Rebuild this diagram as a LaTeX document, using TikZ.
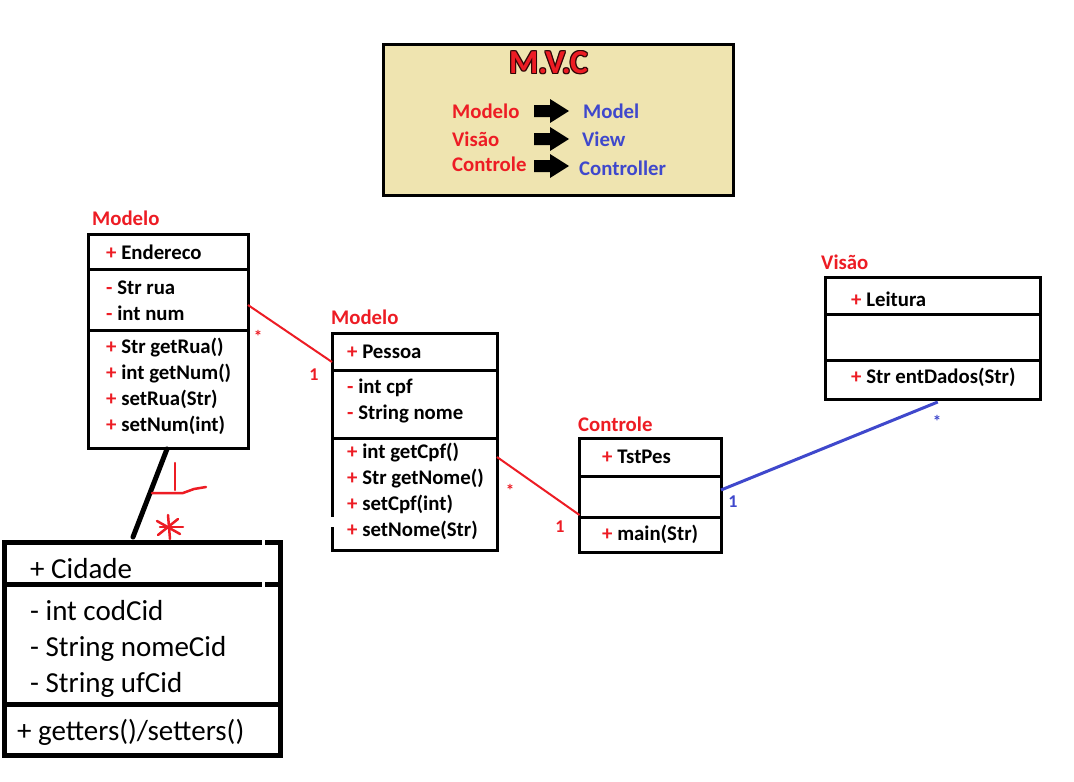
\documentclass[tikz,border=0pt]{standalone}
\usepackage{fontspec}
\setmainfont{Carlito}
\usetikzlibrary{calc}
\definecolor{umlred}{RGB}{237,28,36}
\definecolor{umlblue}{RGB}{63,72,204}
\definecolor{mvctan}{RGB}{239,228,176}
\newcommand{\pub}{\textcolor{umlred}{+}}
\newcommand{\priv}{\textcolor{umlred}{-}}
\tikzset{
  classbox/.style={draw=black,line width=3pt,rectangle,inner sep=0pt,outer sep=0pt},
  divider/.style={draw=black,line width=3pt},
  member/.style={anchor=base west,inner sep=0pt,font=\fontsize{20.8}{24}\selectfont\bfseries},
  layer/.style={member,text=umlred},
  citem/.style={anchor=base west,inner sep=0pt,font=\fontsize{29}{32}\selectfont},
  mult/.style={inner sep=0pt,font=\fontsize{18}{20}\selectfont\bfseries},
  star/.style={inner sep=0pt,font=\fontsize{17}{18}\selectfont\bfseries},
  assoc/.style={draw=umlred,line width=2pt},
  scribble/.style={draw=umlred,line width=2.5pt,line cap=round,line join=round},
  mvcfont/.style={anchor=base west,inner sep=0pt,font=\fontsize{33.5}{36}\selectfont\bfseries},
}
\begin{document}
\begin{tikzpicture}[x=1pt,y=-1pt]
\useasboundingbox[fill=white] (0,0) rectangle (1074,782);

\begin{scope}
  \node[classbox,fill=mvctan,minimum width=350.5pt,minimum height=151.5pt] (mvc) at (558.25,119.75) {};
  \foreach \dx/\dy in {-1/0,1/0,0/-1,0/1,-1/-1,1/1,-1/1,1/-1}
    \node[mvcfont,text=black!80!umlred] at (509+\dx,73+\dy) {M.V.C};
  \node[mvcfont,text=umlred] (mvctitle) at (509,73) {M.V.C};
  \node[layer] (modelo) at (452,118) {Modelo};
  \node[layer] (visao) at (452,146) {Visão};
  \node[layer] (controle) at (452,171) {Controle};
  \node[member,text=umlblue] (model) at (583,118) {Model};
  \node[member,text=umlblue] (view) at (582,146) {View};
  \node[member,text=umlblue] (controller) at (579,175) {Controller};
  \foreach \y in {111,139,166}
    \fill[black] (534,\y-6) -- (550,\y-6) -- (550,\y-12) -- (569,\y) -- (550,\y+12) -- (550,\y+6) -- (534,\y+6) -- cycle;
\end{scope}

\begin{scope}
  \node[layer] (lblendereco) at (92,225) {Modelo};
  \node[classbox,minimum width=160pt,minimum height=214pt] (endereco) at (168,341) {};
  \draw[divider] (endereco.west |- 0,269) -- (endereco.east |- 0,269);
  \draw[divider] (endereco.west |- 0,330.5) -- (endereco.east |- 0,330.5);
  \node[member] (e1) at (106,259) {\pub{} Endereco};
  \node[member] (e2) at (106,294) {\priv{} Str rua};
  \node[member] (e3) at (106,320) {\priv{} int num};
  \node[member] (e4) at (106,353) {\pub{} Str getRua()};
  \node[member] (e5) at (106,379) {\pub{} int getNum()};
  \node[member] (e6) at (106,405) {\pub{} setRua(Str)};
  \node[member] (e7) at (106,431) {\pub{} setNum(int)};
\end{scope}

\begin{scope}
  \node[layer] (lblpessoa) at (331,324) {Modelo};
  \node[classbox,minimum width=165pt,minimum height=217.5pt] (pessoa) at (414.5,441.75) {};
  \draw[divider] (pessoa.west |- 0,370.5) -- (pessoa.east |- 0,370.5);
  \draw[divider] (pessoa.west |- 0,438) -- (pessoa.east |- 0,438);
  \draw[white,line width=4pt] (332,517) -- (332,527);
  \node[member] (p1) at (347,358) {\pub{} Pessoa};
  \node[member] (p2) at (347,393) {\priv{} int cpf};
  \node[member] (p3) at (347,419) {\priv{} String nome};
  \node[member] (p4) at (347,458) {\pub{} int getCpf()};
  \node[member] (p5) at (347,484) {\pub{} Str getNome()};
  \node[member] (p6) at (347,510) {\pub{} setCpf(int)};
  \node[member] (p7) at (347,536) {\pub{} setNome(Str)};
\end{scope}

\begin{scope}
  \node[layer] (lbltstpes) at (578,431) {Controle};
  \node[classbox,minimum width=141.5pt,minimum height=114pt] (tstpes) at (650.25,495) {};
  \draw[divider] (tstpes.west |- 0,476.5) -- (tstpes.east |- 0,476.5);
  \draw[divider] (tstpes.west |- 0,517) -- (tstpes.east |- 0,517);
  \node[member] (t1) at (602,463) {\pub{} TstPes};
  \node[member] (t2) at (602,540) {\pub{} main(Str)};
\end{scope}

\begin{scope}
  \node[layer] (lblleitura) at (821,269) {Visão};
  \node[classbox,minimum width=214.5pt,minimum height=122.5pt] (leitura) at (932.75,338.25) {};
  \draw[divider] (leitura.west |- 0,314.5) -- (leitura.east |- 0,314.5);
  \draw[divider] (leitura.west |- 0,360) -- (leitura.east |- 0,360);
  \node[member] (l1) at (851,306) {\pub{} Leitura};
  \node[member] (l2) at (851,383) {\pub{} Str entDados(Str)};
\end{scope}

\begin{scope}
  \node[classbox,line width=5pt,minimum width=276pt,minimum height=213pt] (cidade) at (142.5,648.5) {};
  \draw[divider,line width=5pt] (cidade.west |- 0,584.5) -- (cidade.east |- 0,584.5);
  \draw[divider,line width=5pt] (cidade.west |- 0,704) -- (cidade.east |- 0,704);
  \draw[white,line width=3pt] (263.5,538) -- (263.5,545);
  \draw[white,line width=3pt] (263.5,581) -- (263.5,588);
  \node[citem] (c1) at (30,578) {+ Cidade};
  \node[citem] (c2) at (30,620) {- int codCid};
  \node[citem] (c3) at (30,656) {- String nomeCid};
  \node[citem] (c4) at (30,692) {- String ufCid};
  \node[citem] (c5) at (17,740) {+ getters()/setters()};
\end{scope}

\draw[assoc] ($(endereco.north east)+(0,71)$) -- ($(pessoa.north west)+(0,29)$);
\node[star,text=umlred] (m1) at (258,336) {*};
\node[mult,text=umlred] (m2) at (314,375) {1};
\draw[assoc] ($(pessoa.north east)+(0,124)$) -- ($(tstpes.north west)+(0,77)$);
\node[star,text=umlred] (m3) at (510,490) {*};
\node[mult,text=umlred] (m4) at (560,527) {1};
\draw[draw=umlblue,line width=3pt] ($(tstpes.north east)+(0,52)$) -- ($(leitura.south)+(5,2.5)$);
\node[mult,text=umlblue] (m5) at (733,502) {1};
\node[star,text=umlblue] (m6) at (937,421) {*};
\draw[black,line width=5pt,line cap=round] ($(endereco.south)+(-1,1)$) -- ($(cidade.north)+(-9.5,-5)$);

\draw[scribble] (175,463) -- (175,490);
\draw[scribble] (152,493) -- (183,493) -- (194,489) -- (206,487);
\draw[scribble] (157,521) -- (180,534);
\draw[scribble] (158,535) -- (178,519);
\draw[scribble] (168,515) -- (170,539);
\draw[scribble] (160,527) -- (183,527);
\end{tikzpicture}
\end{document}
